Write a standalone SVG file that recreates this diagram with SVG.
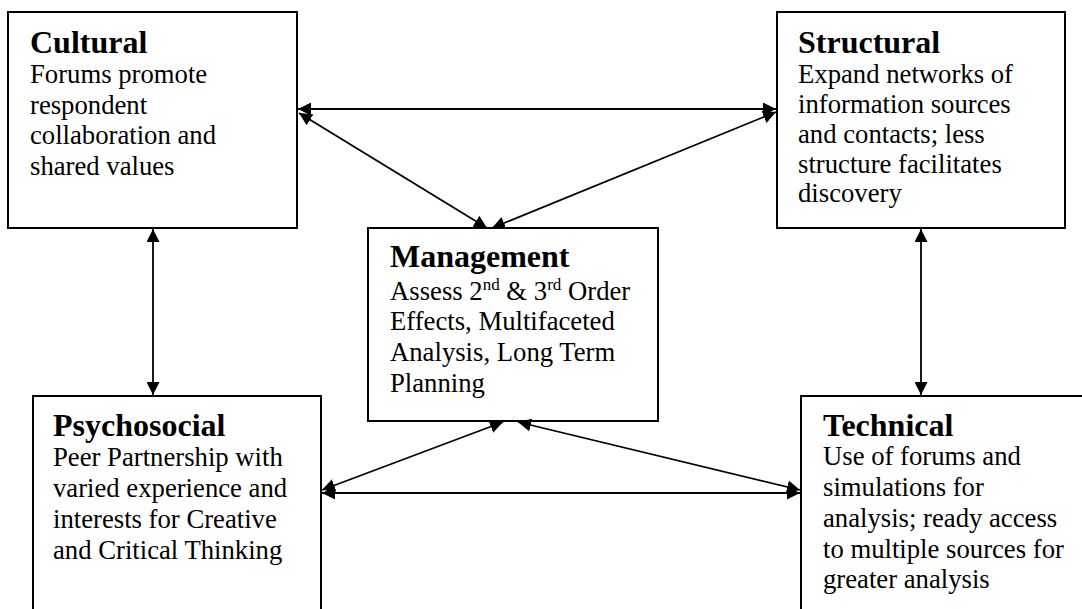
<svg xmlns="http://www.w3.org/2000/svg" width="1082" height="609" viewBox="0 0 1082 609">
<defs>
<marker id="ah" markerUnits="userSpaceOnUse" markerWidth="14" markerHeight="13" refX="13" refY="6.5" orient="auto-start-reverse">
<path d="M0,0 L13,6.5 L0,13 z" fill="#000"/>
</marker>
<style>
.box{fill:#fff;stroke:#000;stroke-width:2}
.t{font-family:"Liberation Serif","Times New Roman",serif;font-weight:bold;font-size:32px;fill:#000}
.b{font-family:"Liberation Serif","Times New Roman",serif;font-size:26.7px;fill:#000}
.sup{font-size:17px}
.c{stroke:#000;stroke-width:1.8;fill:none;marker-start:url(#ah);marker-end:url(#ah)}
</style>
</defs>
<rect width="1082" height="609" fill="#fff"/>
<g id="cultural">
<rect class="box" x="8" y="12" width="289" height="216"/>
<text class="t" x="30" y="53">Cultural</text>
<text class="b"><tspan x="30" y="83">Forums promote</tspan><tspan x="30" y="113.5">respondent</tspan><tspan x="30" y="144">collaboration and</tspan><tspan x="30" y="175">shared values</tspan></text>
</g>
<g id="structural">
<rect class="box" x="777" y="12" width="288" height="216"/>
<text class="t" x="798" y="53">Structural</text>
<text class="b"><tspan x="798" y="83">Expand networks of</tspan><tspan x="798" y="113">information sources</tspan><tspan x="798" y="143">and contacts; less</tspan><tspan x="798" y="172.5">structure facilitates</tspan><tspan x="798" y="201.5">discovery</tspan></text>
</g>
<g id="management">
<rect class="box" x="368" y="228" width="290" height="193"/>
<text class="t" x="390" y="267">Management</text>
<text class="b"><tspan x="390" y="300">Assess 2<tspan class="sup" dy="-10">nd</tspan><tspan dy="10"> &amp; 3</tspan><tspan class="sup" dy="-10">rd</tspan><tspan dy="10"> Order</tspan></tspan><tspan x="390" y="330">Effects, Multifaceted</tspan><tspan x="390" y="361">Analysis, Long Term</tspan><tspan x="390" y="391.5">Planning</tspan></text>
</g>
<g id="psychosocial">
<rect class="box" x="33" y="396" width="288" height="230"/>
<text class="t" x="53" y="436">Psychosocial</text>
<text class="b"><tspan x="53" y="466">Peer Partnership with</tspan><tspan x="53" y="497">varied experience and</tspan><tspan x="53" y="528">interests for Creative</tspan><tspan x="53" y="559">and Critical Thinking</tspan></text>
</g>
<g id="technical">
<rect class="box" x="801" y="396" width="300" height="230"/>
<text class="t" x="823" y="436">Technical</text>
<text class="b"><tspan x="823" y="465">Use of forums and</tspan><tspan x="823" y="496">simulations for</tspan><tspan x="823" y="527">analysis; ready access</tspan><tspan x="823" y="558">to multiple sources for</tspan><tspan x="823" y="588">greater analysis</tspan></text>
</g>
<g id="connectors">
<line class="c" x1="298" y1="109" x2="776" y2="109"/>
<line class="c" x1="299" y1="113" x2="487" y2="228"/>
<line class="c" x1="776" y1="112" x2="492" y2="228"/>
<line class="c" x1="153" y1="229" x2="153" y2="395"/>
<line class="c" x1="921" y1="229" x2="921" y2="395"/>
<line class="c" x1="503" y1="422" x2="322" y2="490"/>
<line class="c" x1="518" y1="422" x2="800" y2="490"/>
<line class="c" x1="322" y1="493" x2="800" y2="493"/>
</g>
</svg>
